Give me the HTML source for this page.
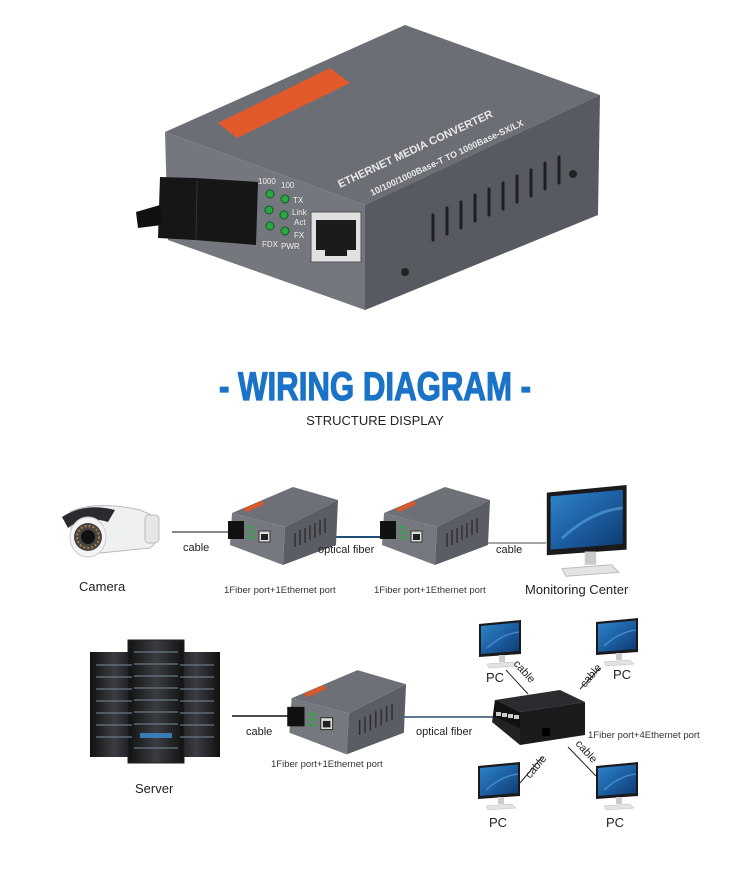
<!DOCTYPE html>
<html><head><meta charset="utf-8"><style>
html,body{margin:0;padding:0;background:#fff;}
svg{display:block;}
text{font-family:"Liberation Sans","DejaVu Sans",sans-serif;}
</style></head><body>
<svg width="750" height="878" viewBox="0 0 750 878" xmlns="http://www.w3.org/2000/svg">
<defs>
<linearGradient id="scr" x1="0" y1="0" x2="1" y2="1"><stop offset="0" stop-color="#2f86c9"/><stop offset="0.5" stop-color="#1d5fa3"/><stop offset="1" stop-color="#0d3a70"/></linearGradient>
<linearGradient id="rack" x1="0" y1="0" x2="1" y2="0"><stop offset="0" stop-color="#111"/><stop offset="0.5" stop-color="#3a3d42"/><stop offset="1" stop-color="#111"/></linearGradient>
<g id="conv">
<polygon points="7,28 68,2 113,15 60,42" fill="#6d7077"/>
<polygon points="60,42 113,15 111,60 58,80" fill="#5a5d64"/>
<polygon points="7,28 60,42 58,80 5,60" fill="#75787e"/>
<polygon points="18,24 36,16 40,19 22,27" fill="#d9572a"/>
<g stroke="#2a2b2e" stroke-width="1.3"><line x1="70" y1="48" x2="70" y2="62"/><line x1="75" y1="45" x2="75" y2="60"/><line x1="80" y1="43" x2="80" y2="58"/><line x1="85" y1="40" x2="85" y2="55"/><line x1="90" y1="38" x2="90" y2="53"/><line x1="95" y1="35" x2="95" y2="50"/><line x1="100" y1="33" x2="100" y2="48"/></g>
<rect x="3" y="36" width="16" height="18" fill="#111"/>
<rect x="34" y="46" width="11" height="11" fill="#ddd" stroke="#333"/>
<rect x="36" y="49" width="7" height="6" fill="#222"/>
<g fill="#2fa84a"><circle cx="24" cy="42" r="1.5"/><circle cx="28" cy="43" r="1.5"/><circle cx="24" cy="47" r="1.5"/><circle cx="28" cy="48" r="1.5"/><circle cx="24" cy="52" r="1.5"/><circle cx="28" cy="53" r="1.5"/></g>
</g>
<g id="mon">
<polygon points="2,4 44,0 44,34 2,37" fill="#1a1a1c"/>
<polygon points="4,6 42,2.5 42,31 4,34" fill="url(#scr)"/>
<path d="M10,28 Q25,14 42,12" stroke="#5aa6e0" stroke-width="1.5" fill="none" opacity="0.6"/>
<rect x="22" y="35" width="6" height="7" fill="#c9cbce"/>
<polygon points="10,44 36,42 40,46 12,48" fill="#e2e3e5" stroke="#bbb" stroke-width="0.5"/>
</g>
</defs>

<!-- main device -->
<polygon points="165,132 405,25 600,95 365,205" fill="#6b6e75"/>
<polygon points="365,205 600,95 598,215 365,310" fill="#575a61"/>
<polygon points="165,132 365,205 365,310 168,240" fill="#74777d"/>
<polygon points="218,123 330,68 350,83 237,138" fill="#e25a2c"/>
<text x="0" y="0" font-family="Liberation Serif" font-weight="bold" font-size="11" fill="#e8e8e8" transform="translate(340,188) rotate(-25)">ETHERNET MEDIA CONVERTER</text>
<text x="0" y="0" font-family="Liberation Serif" font-weight="bold" font-size="9" fill="#e8e8e8" transform="translate(372,196) rotate(-25)">10/100/1000Base-T TO 1000Base-SX/LX</text>
<g stroke="#1e1f22" stroke-width="3" stroke-linecap="round">
<line x1="433" y1="215" x2="433" y2="240"/><line x1="447" y1="208" x2="447" y2="234"/><line x1="461" y1="202" x2="461" y2="228"/><line x1="475" y1="195" x2="475" y2="221"/><line x1="489" y1="189" x2="489" y2="215"/><line x1="503" y1="183" x2="503" y2="209"/><line x1="517" y1="176" x2="517" y2="202"/><line x1="531" y1="170" x2="531" y2="196"/><line x1="545" y1="163" x2="545" y2="189"/><line x1="559" y1="157" x2="559" y2="183"/>
</g>
<circle cx="573" cy="174" r="4" fill="#222"/><circle cx="405" cy="272" r="4" fill="#222"/>
<polygon points="160,177 195,178 258,182 256,245 195,240 158,238" fill="#161616"/>
<polygon points="136,212 160,205 162,225 138,228" fill="#111"/>
<line x1="197" y1="180" x2="196" y2="240" stroke="#333"/>
<rect x="311" y="212" width="50" height="50" fill="#e0e0e0" stroke="#555"/>
<rect x="316" y="220" width="40" height="30" fill="#1b1b1b"/>
<rect x="325" y="250" width="22" height="6" fill="#1b1b1b"/>
<g fill="#2ba646" stroke="#145a22"><circle cx="270" cy="194" r="4"/><circle cx="285" cy="199" r="4"/><circle cx="269" cy="210" r="4"/><circle cx="284" cy="215" r="4"/><circle cx="270" cy="226" r="4"/><circle cx="285" cy="231" r="4"/></g>
<g font-size="8" fill="#eee"><text x="258" y="184">1000</text><text x="281" y="188">100</text><text x="293" y="203">TX</text><text x="292" y="215">Link</text><text x="294" y="225">Act</text><text x="294" y="238">FX</text><text x="262" y="247">FDX</text><text x="281" y="249">PWR</text></g>

<!-- title -->
<text x="375" y="400" text-anchor="middle" font-size="40" font-weight="bold" fill="#1a73c6" stroke="#1a73c6" stroke-width="1.2" textLength="312" lengthAdjust="spacingAndGlyphs">- WIRING DIAGRAM -</text>
<text x="375" y="425" text-anchor="middle" font-size="13" fill="#222">STRUCTURE  DISPLAY</text>

<!-- top row -->
<line x1="172" y1="532" x2="228" y2="532" stroke="#888" stroke-width="2"/>
<line x1="336" y1="537" x2="386" y2="537" stroke="#1f4e79" stroke-width="2"/>
<line x1="476" y1="543" x2="546" y2="543" stroke="#888" stroke-width="1.5"/>
<g>
<path d="M70,512 Q95,500 140,510 L158,518 Q162,540 150,548 L110,552 Q80,556 72,545 Z" fill="#eef0f2" stroke="#bbb"/>
<path d="M62,517 Q85,502 115,510 L108,522 Q85,515 68,528 Z" fill="#2a2b2f"/>
<ellipse cx="88" cy="537" rx="18" ry="20" fill="#f4f4f4" stroke="#ccc"/>
<circle cx="88" cy="537" r="14" fill="#444"/>
<circle cx="88" cy="537" r="7" fill="#111"/>
<circle cx="88" cy="537" r="11" fill="none" stroke="#b87b3e" stroke-dasharray="2,2" stroke-width="2"/>
<rect x="145" y="515" width="14" height="28" rx="4" fill="#e6e7e9" stroke="#bbb"/>
</g>
<use href="#conv" x="225" y="485"/>
<use href="#conv" x="377" y="485"/>
<g transform="translate(543,485) scale(1.9)"><use href="#mon"/></g>
<g font-size="11" fill="#222">
<text x="183" y="551">cable</text>
<text x="318" y="553">optical fiber</text>
<text x="496" y="553">cable</text>
</g>
<text x="79" y="591" font-size="13" fill="#222">Camera</text>
<text x="224" y="593" font-size="9.5" fill="#333">1Fiber port+1Ethernet port</text>
<text x="374" y="593" font-size="9.5" fill="#333">1Fiber port+1Ethernet port</text>
<text x="525" y="594" font-size="13" fill="#222">Monitoring Center</text>

<!-- bottom row: server -->
<rect x="90" y="652" width="48" height="105" fill="url(#rack)"/>
<rect x="172" y="652" width="48" height="105" fill="url(#rack)"/>
<rect x="128" y="640" width="56" height="123" fill="url(#rack)" stroke="#222"/>
<g stroke="#6d7a88" stroke-width="1.5" opacity="0.8">
<line x1="96" y1="665" x2="132" y2="665"/><line x1="96" y1="677" x2="132" y2="677"/><line x1="96" y1="689" x2="132" y2="689"/><line x1="96" y1="701" x2="132" y2="701"/><line x1="96" y1="713" x2="132" y2="713"/><line x1="96" y1="725" x2="132" y2="725"/><line x1="96" y1="737" x2="132" y2="737"/>
<line x1="134" y1="652" x2="178" y2="652"/><line x1="134" y1="664" x2="178" y2="664"/><line x1="134" y1="676" x2="178" y2="676"/><line x1="134" y1="688" x2="178" y2="688"/><line x1="134" y1="700" x2="178" y2="700"/><line x1="134" y1="712" x2="178" y2="712"/><line x1="134" y1="724" x2="178" y2="724"/><line x1="134" y1="748" x2="178" y2="748"/>
<line x1="180" y1="665" x2="214" y2="665"/><line x1="180" y1="677" x2="214" y2="677"/><line x1="180" y1="689" x2="214" y2="689"/><line x1="180" y1="701" x2="214" y2="701"/><line x1="180" y1="713" x2="214" y2="713"/><line x1="180" y1="725" x2="214" y2="725"/><line x1="180" y1="737" x2="214" y2="737"/>
</g>
<rect x="140" y="733" width="32" height="5" fill="#3d8fd6" opacity="0.8"/>
<text x="135" y="793" font-size="13" fill="#222">Server</text>

<line x1="232" y1="716" x2="298" y2="716" stroke="#111" stroke-width="1.5"/>
<line x1="400" y1="717" x2="495" y2="717" stroke="#2a4c6e" stroke-width="1.5"/>
<g transform="translate(284,668) scale(1.08)"><use href="#conv"/></g>
<text x="246" y="735" font-size="11" fill="#222">cable</text>
<text x="416" y="735" font-size="11" fill="#222">optical fiber</text>
<text x="271" y="767" font-size="9.5" fill="#333">1Fiber port+1Ethernet port</text>

<polygon points="495,700 560,690 585,702 520,712" fill="#2b2c2f"/>
<polygon points="520,712 585,702 585,735 520,745" fill="#1a1b1d"/>
<polygon points="495,700 520,712 520,745 492,722" fill="#222"/>
<polygon points="495,700 520,712 520,728 493,716" fill="#111"/>
<g fill="#ccc"><rect x="496" y="712" width="5" height="4"/><rect x="502" y="713" width="5" height="4"/><rect x="508" y="714" width="5" height="4"/><rect x="514" y="715" width="5" height="4"/></g>
<rect x="542" y="728" width="8" height="8" fill="#000"/>
<text x="588" y="738" font-size="9.5" fill="#333">1Fiber port+4Ethernet port</text>

<use href="#mon" x="477" y="620"/>
<use href="#mon" x="594" y="618"/>
<use href="#mon" x="476" y="762"/>
<use href="#mon" x="594" y="762"/>
<g font-size="13" fill="#222"><text x="486" y="682">PC</text><text x="613" y="679">PC</text><text x="489" y="827">PC</text><text x="606" y="827">PC</text></g>
<g stroke="#222" stroke-width="1"><line x1="506" y1="670" x2="528" y2="694"/><line x1="600" y1="668" x2="580" y2="689"/><line x1="520" y1="783" x2="542" y2="757"/><line x1="568" y1="747" x2="596" y2="776"/></g>
<g font-size="11" fill="#222">
<text transform="translate(513,664) rotate(48)">cable</text>
<text transform="translate(585,688) rotate(-50)">cable</text>
<text transform="translate(530,779) rotate(-50)">cable</text>
<text transform="translate(575,744) rotate(48)">cable</text>
</g>
</svg>
</body></html>
